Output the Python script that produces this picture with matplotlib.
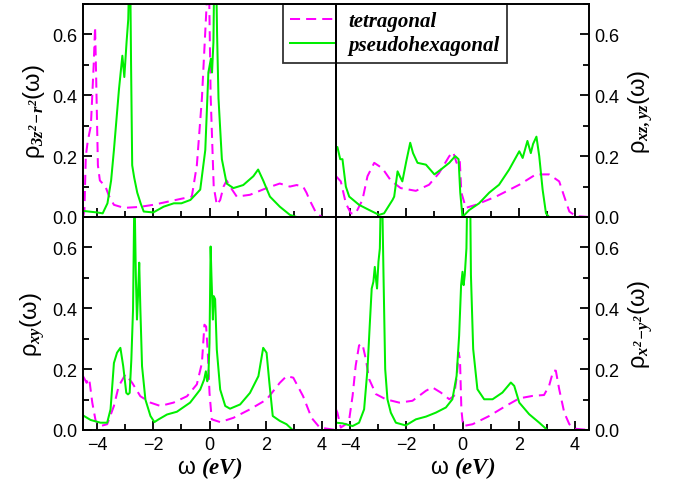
import matplotlib
matplotlib.use("Agg")
import matplotlib.pyplot as plt
from matplotlib.ticker import MultipleLocator
from matplotlib.font_manager import FontProperties

# ---------------- data ----------------
series_names = ["tetragonal", "pseudohexagonal"]

# top-left: rho_{3z^2-r^2}
tet_3z2_x = [-4.5, -4.45, -4.4, -4.33, -4.22, -4.12, -4.07, -4.03, -3.97, -3.9, -3.8, -3.7, -3.58, -3.4, -3.04, -2.5,
             -2.0, -1.5, -1.0, -0.63, -0.45, -0.27, -0.15, -0.09, -0.05, -0.01, 0.04, 0.15, 0.26, 0.38, 0.5, 0.61,
             0.73, 0.97, 1.44, 2.03, 2.5, 2.86, 3.1, 3.33, 3.45, 3.56, 3.8, 4.0, 4.5]
tet_3z2_y = [0.0, 0.02, 0.2, 0.25, 0.3, 0.5, 0.625, 0.45, 0.17, 0.12, 0.11, 0.10, 0.07, 0.04, 0.03, 0.033,
             0.04, 0.05, 0.06, 0.067, 0.17, 0.39, 0.61, 0.72, 0.9, 0.72, 0.4, 0.10, 0.04, 0.056, 0.10, 0.12,
             0.10, 0.067, 0.073, 0.095, 0.11, 0.10, 0.105, 0.10, 0.08, 0.056, 0.012, 0.0, 0.0]
hex_3z2_x = [-4.5, -4.0, -3.8, -3.63, -3.5, -3.4, -3.22, -3.1, -3.03, -2.95, -2.89, -2.83, -2.79, -2.75, -2.68,
             -2.57, -2.45, -2.34, -2.0, -1.63, -1.27, -1.0, -0.68, -0.33, -0.15, -0.04, 0.05, 0.09, 0.14, 0.18,
             0.22, 0.27, 0.32, 0.44, 0.61, 0.85, 1.2, 1.56, 1.73, 1.91, 2.15, 2.5, 2.86, 3.1, 4.5]
hex_3z2_y = [0.02, 0.015, 0.012, 0.045, 0.12, 0.22, 0.42, 0.53, 0.46, 0.575, 0.65, 0.9, 0.5, 0.17, 0.13,
             0.08, 0.045, 0.018, 0.015, 0.034, 0.045, 0.045, 0.056, 0.09, 0.22, 0.475, 0.52, 0.475, 0.575, 0.9,
             0.9, 0.6, 0.39, 0.19, 0.11, 0.095, 0.105, 0.134, 0.156, 0.12, 0.067, 0.034, 0.007, 0.0, 0.0]

# top-right: rho_{xz,yz}
tet_xz_x = [-4.5, -4.33, -4.15, -3.97, -3.8, -3.56, -3.38, -3.14, -2.85, -2.55, -2.2, -1.66, -1.19, -0.83, -0.47,
            -0.33, -0.21, -0.1, -0.04, 0.12, 0.47, 1.19, 2.02, 2.61, 3.08, 3.44, 3.62, 3.8, 4.03, 4.5]
tet_xz_y = [0.134, 0.117, 0.045, 0.012, 0.012, 0.056, 0.134, 0.178, 0.16, 0.12, 0.095, 0.086, 0.106, 0.145, 0.2,
            0.213, 0.178, 0.19, 0.08, 0.03, 0.04, 0.067, 0.106, 0.14, 0.14, 0.117, 0.067, 0.018, 0.003, 0.0]
hex_xz_x = [-4.5, -4.45, -4.35, -4.27, -4.15, -4.03, -3.68, -3.32, -2.97, -2.79, -2.49, -2.43, -2.31, -2.23, -2.14,
            -2.0, -1.86, -1.76, -1.6, -1.3, -1.0, -0.77, -0.47, -0.26, -0.14, -0.08, 0.0, 0.24, 0.59, 0.95, 1.3,
            1.66, 2.02, 2.14, 2.31, 2.43, 2.51, 2.63, 2.73, 2.85, 2.97, 3.08, 4.5]
hex_xz_y = [0.22, 0.23, 0.19, 0.19, 0.1, 0.067, 0.04, 0.023, 0.007, 0.012, 0.056, 0.067, 0.15, 0.134, 0.117,
            0.183, 0.244, 0.21, 0.178, 0.172, 0.14, 0.156, 0.178, 0.2, 0.19, 0.08, 0.0, 0.023, 0.045, 0.08, 0.106,
            0.156, 0.216, 0.194, 0.25, 0.21, 0.24, 0.264, 0.2, 0.09, 0.012, 0.0, 0.0]

# bottom-left: rho_{xy}
tet_xy_x = [-4.5, -4.37, -4.32, -4.26, -4.17, -4.05, -3.88, -3.64, -3.4, -3.23, -2.99, -2.75, -2.46, -2.1, -1.75,
            -1.28, -0.8, -0.45, -0.27, -0.18, -0.12, -0.06, 0.0, 0.08, 0.38, 0.85, 1.44, 2.03, 2.5, 2.74, 2.98,
            3.33, 3.63, 3.92, 4.5]
tet_xy_y = [0.177, 0.155, 0.17, 0.155, 0.09, 0.03, 0.013, 0.019, 0.079, 0.144, 0.183, 0.155, 0.111, 0.09, 0.079,
            0.09, 0.111, 0.15, 0.22, 0.346, 0.34, 0.254, 0.122, 0.035, 0.026, 0.04, 0.068, 0.1, 0.155, 0.177, 0.172,
            0.111, 0.04, 0.008, 0.0]
hex_xy_x = [-4.5, -4.23, -3.88, -3.64, -3.52, -3.4, -3.29, -3.17, -3.07, -2.96, -2.9, -2.84, -2.78, -2.72, -2.67,
            -2.62, -2.58, -2.54, -2.5, -2.46, -2.4, -2.28, -2.1, -1.96, -1.81, -1.51, -1.16, -0.69, -0.33, -0.19,
            -0.13, -0.08, -0.04, 0.0, 0.04, 0.07, 0.12, 0.15, 0.2, 0.26, 0.38, 0.56, 0.73, 1.09, 1.44, 1.74, 1.91,
            2.03, 2.13, 2.25, 2.5, 2.74, 2.96, 4.5]
hex_xy_y = [0.048, 0.033, 0.024, 0.024, 0.068, 0.22, 0.254, 0.27, 0.21, 0.122, 0.117, 0.122, 0.232, 0.396, 0.8,
            0.505, 0.363, 0.45, 0.55, 0.4, 0.21, 0.1, 0.046, 0.026, 0.035, 0.051, 0.06, 0.09, 0.133, 0.166,
            0.193, 0.16, 0.177, 0.286, 0.603, 0.505, 0.363, 0.44, 0.43, 0.264, 0.133, 0.079, 0.07, 0.084, 0.122,
            0.177, 0.27, 0.254, 0.155, 0.046, 0.03, 0.019, 0.0, 0.0]

# bottom-right: rho_{x^2-y^2}
tet_x2y2_x = [-4.5, -4.45, -4.33, -4.15, -4.03, -3.91, -3.8, -3.68, -3.56, -3.44, -3.32, -3.08, -2.73, -2.25,
              -1.78, -1.3, -1.07, -0.77, -0.47, -0.3, -0.2, -0.14, -0.09, -0.04, 0.02, 0.36, 0.95, 1.54, 2.02,
              2.49, 2.9, 3.08, 3.23, 3.32, 3.44, 3.62, 3.8, 4.03, 4.5]
tet_x2y2_y = [0.068, 0.057, 0.008, 0.019, 0.035, 0.112, 0.211, 0.278, 0.283, 0.233, 0.167, 0.118, 0.101, 0.09,
              0.096, 0.129, 0.14, 0.123, 0.101, 0.112, 0.178, 0.255, 0.233, 0.068, 0.013, 0.019, 0.046, 0.079, 0.104,
              0.112, 0.115, 0.145, 0.195, 0.195, 0.134, 0.057, 0.019, 0.004, 0.0]
hex_x2y2_x = [-4.5, -4.27, -3.91, -3.68, -3.5, -3.38, -3.3, -3.23, -3.17, -3.12, -3.08, -3.04, -2.99, -2.94, -2.88,
              -2.81, -2.75, -2.67, -2.55, -2.37, -2.02, -1.66, -1.3, -0.95, -0.59, -0.36, -0.21, -0.12, -0.05, 0.0,
              0.04, 0.08, 0.14, 0.19, 0.26, 0.3, 0.38, 0.53, 0.77, 1.07, 1.42, 1.72, 1.84, 2.02, 2.37, 2.73, 3.02, 4.5]
hex_x2y2_y = [0.024, 0.022, 0.013, 0.024, 0.068, 0.2, 0.344, 0.465, 0.487, 0.536, 0.498, 0.465, 0.553, 0.597, 0.9,
              0.509, 0.2, 0.101, 0.057, 0.024, 0.015, 0.035, 0.044, 0.057, 0.074, 0.101, 0.178, 0.31, 0.476, 0.52,
              0.476, 0.509, 0.597, 0.9, 0.9, 0.509, 0.266, 0.134, 0.101, 0.101, 0.123, 0.156, 0.145, 0.09, 0.052,
              0.024, 0.0, 0.0]

ylabels = [r"ρ$_{3z^2\!-\!r^2}$(ω)", r"ρ$_{xz,yz}$(ω)", r"ρ$_{xy}$(ω)", r"ρ$_{x^2\!-\!y^2}$(ω)"]
xlabel = r"ω $(eV)$"
xticks = [-4, -2, 0, 2, 4]
yticks = [0.0, 0.2, 0.4, 0.6]

# ---------------- style ----------------
plt.rcParams["font.family"] = ["Liberation Sans", "DejaVu Sans"]
plt.rcParams["mathtext.fontset"] = "custom"
plt.rcParams["mathtext.it"] = "Liberation Serif:italic:bold"
plt.rcParams["mathtext.rm"] = "Liberation Serif:italic:bold"
plt.rcParams["mathtext.bf"] = "Liberation Serif:italic:bold"

MAG = "#ff00ff"
GRN = "#00ee00"
LW = 1.45

fig = plt.figure(figsize=(6.74, 4.81), dpi=100)
gs = fig.add_gridspec(2, 2, left=83 / 674, right=589 / 674, top=1 - 5 / 481, bottom=1 - 431 / 481,
                      hspace=0, wspace=0)
ax_tl = fig.add_subplot(gs[0, 0])
ax_tr = fig.add_subplot(gs[0, 1])
ax_bl = fig.add_subplot(gs[1, 0])
ax_br = fig.add_subplot(gs[1, 1])

panels = [
    (ax_tl, tet_3z2_x, tet_3z2_y, hex_3z2_x, hex_3z2_y),
    (ax_tr, tet_xz_x, tet_xz_y, hex_xz_x, hex_xz_y),
    (ax_bl, tet_xy_x, tet_xy_y, hex_xy_x, hex_xy_y),
    (ax_br, tet_x2y2_x, tet_x2y2_y, hex_x2y2_x, hex_x2y2_y),
]

for i, (ax, tx, ty, hx, hy) in enumerate(panels):
    ax.plot(tx, ty, color=MAG, lw=LW, dashes=(5, 3), label=series_names[0])
    ax.plot(hx, hy, color=GRN, lw=LW, label=series_names[1])
    ax.set_xlim(-4.5, 4.5)
    ax.set_ylim(0, 0.7)
    ax.set_xticks(xticks)
    ax.set_yticks(yticks)
    ax.xaxis.set_minor_locator(MultipleLocator(1))
    ax.yaxis.set_minor_locator(MultipleLocator(0.1))
    for s in ax.spines.values():
        s.set_linewidth(1.4)
    right = (i % 2 == 1)
    bottom = (i >= 2)
    ax.tick_params(which="both", direction="in", top=False, bottom=True,
                   left=not right, right=right, labelleft=not right, labelright=right,
                   labelbottom=bottom, labelsize=13, width=1.3)
    ax.tick_params(which="major", length=6.5, pad=4)
    ax.tick_params(which="minor", length=4.5)
    ax.yaxis.set_major_formatter(matplotlib.ticker.FormatStrFormatter("%.1f"))
    if right:
        ax.yaxis.set_label_position("right")
        ax.set_ylabel(ylabels[i], fontsize=17, rotation=90, labelpad=5)
        ax.patch.set_visible(False)
    else:
        ax.set_ylabel(ylabels[i], fontsize=17, labelpad=4)
    if bottom:
        ax.set_xlabel(xlabel, fontsize=16.5, labelpad=1)

leg = ax_tl.legend(loc="upper left", bbox_to_anchor=(283 / 674, 1 - 5 / 481), bbox_transform=fig.transFigure,
                   borderaxespad=0, frameon=True, fancybox=False, handlelength=2.2, handletextpad=0.6,
                   borderpad=0.35, labelspacing=0.2,
                   prop=FontProperties(family="Liberation Serif", style="italic", weight="bold", size=15))
leg.get_frame().set_edgecolor("black")
leg.get_frame().set_linewidth(1.3)
leg.set_zorder(1)

fig.savefig("out.png", dpi=100)
